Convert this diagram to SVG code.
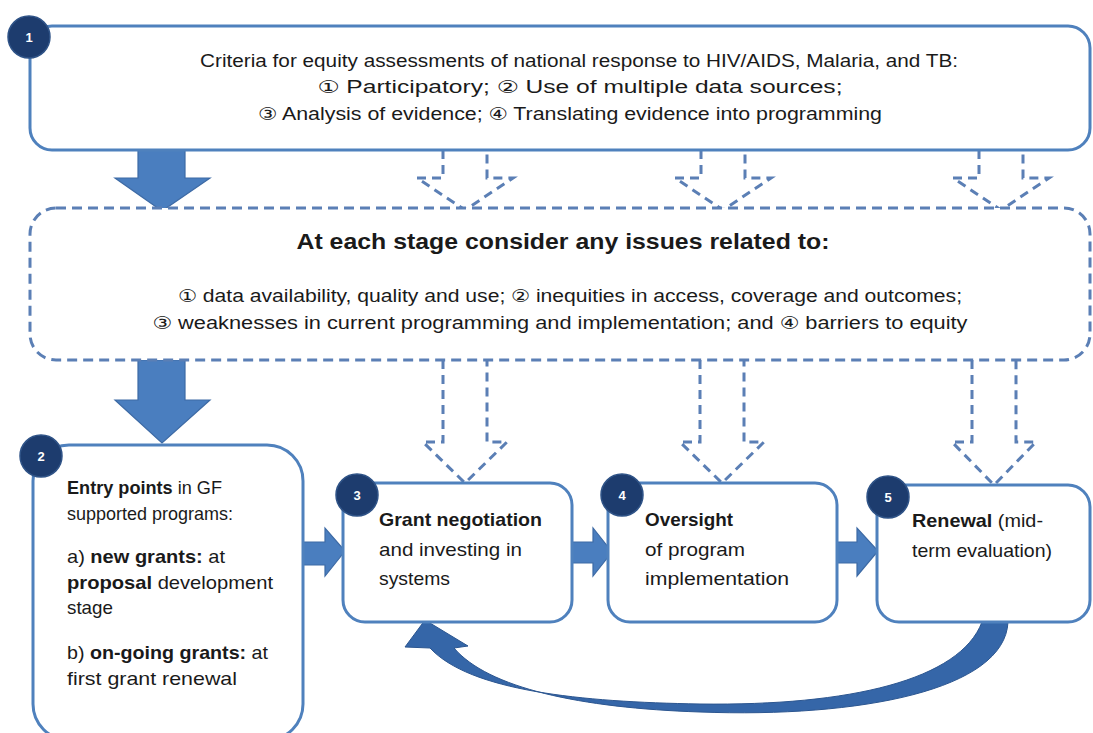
<svg xmlns="http://www.w3.org/2000/svg" width="1093" height="733" viewBox="0 0 1093 733">
<style>
.box{fill:#fff;stroke:#4f81bd;stroke-width:3}
.dbox{fill:#fff;stroke:#5b7fb5;stroke-width:3;stroke-dasharray:10 6}
.dar{fill:none;stroke:#5b7fb5;stroke-width:3;stroke-dasharray:9 6;stroke-linejoin:miter}
.sar{fill:#4a7ebf;stroke:#3d6aa5;stroke-width:1.2}
.badge{fill:#1d3c6e;stroke:#2f5387;stroke-width:1.5}
.bn{font-family:"Liberation Sans","DejaVu Sans",sans-serif;font-size:13px;font-weight:bold;fill:#fff;text-anchor:middle}
.t{font-family:"Liberation Sans","DejaVu Sans",sans-serif;fill:#1a1a1a}
.c{text-anchor:middle}
.b{font-weight:bold}
.n{font-size:19px}
</style>
<rect width="1093" height="733" fill="#fff"/>
<g id="connectors">
  <polygon class="sar" points="138,150 185,150 185,178 210,178 162,211 115,178 138,178"/>
  <polygon class="sar" points="138,360 185,360 185,400 210,400 162,443 115,400 138,400"/>
  <polyline class="dar" points="443,150 443,178 417,178 465,210 513,178 487,178 487,150"/>
  <polyline class="dar" points="701,150 701,178 675,178 723,210 771,178 745,178 745,150"/>
  <polyline class="dar" points="979,150 979,178 953,178 1001,210 1049,178 1023,178 1023,150"/>
  <polyline class="dar" points="443,360 443,442 423,442 465,483 507,442 487,442 487,360"/>
  <polyline class="dar" points="700,360 700,442 680,442 722,483 764,442 744,442 744,360"/>
  <polyline class="dar" points="972,360 972,442 952,442 994,485 1036,442 1016,442 1016,360"/>
  <polygon class="sar" points="303,542 325,542 325,528 345,551 325,576 325,565 303,565"/>
  <polygon class="sar" points="572,542 593,542 593,528 612,552 593,576 593,563 572,563"/>
  <polygon class="sar" points="837,542 857,542 857,528 878,551 857,576 857,563 837,563"/>
  <path fill="#3566a8" stroke="#2c5690" stroke-width="1" d="M1008,622 C1005,690 860,718 700,712 C580,708 488,688 454,648 L468,646 L425,620 L405,647 L430,648 C470,691 580,702 700,704 C850,706 960,680 982,622 Z"/>
</g>
<g id="node1">
  <rect class="box" x="30" y="26" width="1060" height="124" rx="22"/>
  <circle class="badge" cx="29" cy="37" r="21"/>
  <text class="bn" x="29" y="42">1</text>
  <text class="t c" x="579" y="67" font-size="17.5" textLength="758" lengthAdjust="spacingAndGlyphs">Criteria for equity assessments of national response to HIV/AIDS, Malaria, and TB:</text>
  <text class="t c" x="580" y="93" font-size="17.5" textLength="525" lengthAdjust="spacingAndGlyphs">① Participatory; ② Use of multiple data sources;</text>
  <text class="t c" x="570" y="120" font-size="17.5" textLength="624" lengthAdjust="spacingAndGlyphs">③ Analysis of evidence; ④ Translating evidence into programming</text>
</g>
<g id="stage-box">
  <rect class="dbox" x="30" y="208" width="1060" height="152" rx="26"/>
  <text class="t c b" x="563" y="249" font-size="22" textLength="533" lengthAdjust="spacingAndGlyphs">At each stage consider any issues related to:</text>
  <text class="t c" x="570" y="302" font-size="17.5" textLength="784" lengthAdjust="spacingAndGlyphs">① data availability, quality and use; ② inequities in access, coverage and outcomes;</text>
  <text class="t c" x="560" y="329" font-size="17.5" textLength="815" lengthAdjust="spacingAndGlyphs">③ weaknesses in current programming and implementation; and ④ barriers to equity</text>
</g>
<g id="node2">
  <rect class="box" x="33" y="445" width="270" height="295" rx="36"/>
  <circle class="badge" cx="41" cy="456" r="21"/>
  <text class="bn" x="41" y="461">2</text>
  <text class="t n" x="67" y="494" textLength="155" lengthAdjust="spacingAndGlyphs"><tspan class="b">Entry points</tspan> in GF</text>
  <text class="t n" x="67" y="520" textLength="166" lengthAdjust="spacingAndGlyphs">supported programs:</text>
  <text class="t n" x="67" y="563" textLength="158" lengthAdjust="spacingAndGlyphs">a) <tspan class="b">new grants:</tspan>  at</text>
  <text class="t n" x="67" y="589" textLength="206" lengthAdjust="spacingAndGlyphs"><tspan class="b">proposal</tspan> development</text>
  <text class="t n" x="67" y="614" textLength="46" lengthAdjust="spacingAndGlyphs">stage</text>
  <text class="t n" x="67" y="659" textLength="201" lengthAdjust="spacingAndGlyphs">b)  <tspan class="b">on-going grants:</tspan> at</text>
  <text class="t n" x="67" y="685" textLength="170" lengthAdjust="spacingAndGlyphs">first grant renewal</text>
</g>
<g id="node3">
  <rect class="box" x="343" y="483" width="229" height="139" rx="22"/>
  <circle class="badge" cx="357" cy="495" r="21"/>
  <text class="bn" x="357" y="500">3</text>
  <text class="t b n" x="379" y="526" textLength="163" lengthAdjust="spacingAndGlyphs">Grant negotiation</text>
  <text class="t n" x="379" y="556" textLength="143" lengthAdjust="spacingAndGlyphs">and investing in</text>
  <text class="t n" x="379" y="585" textLength="71" lengthAdjust="spacingAndGlyphs">systems</text>
</g>
<g id="node4">
  <rect class="box" x="608" y="483" width="229" height="139" rx="22"/>
  <circle class="badge" cx="622" cy="495" r="21"/>
  <text class="bn" x="622" y="500">4</text>
  <text class="t b n" x="645" y="526" textLength="88" lengthAdjust="spacingAndGlyphs">Oversight</text>
  <text class="t n" x="645" y="556" textLength="100" lengthAdjust="spacingAndGlyphs">of program</text>
  <text class="t n" x="645" y="585" textLength="144" lengthAdjust="spacingAndGlyphs">implementation</text>
</g>
<g id="node5">
  <rect class="box" x="877" y="485" width="213" height="137" rx="22"/>
  <circle class="badge" cx="888" cy="497" r="21"/>
  <text class="bn" x="888" y="502">5</text>
  <text class="t n" x="912" y="527" textLength="131" lengthAdjust="spacingAndGlyphs"><tspan class="b">Renewal</tspan> (mid-</text>
  <text class="t n" x="912" y="557" textLength="140" lengthAdjust="spacingAndGlyphs">term evaluation)</text>
</g>
</svg>
